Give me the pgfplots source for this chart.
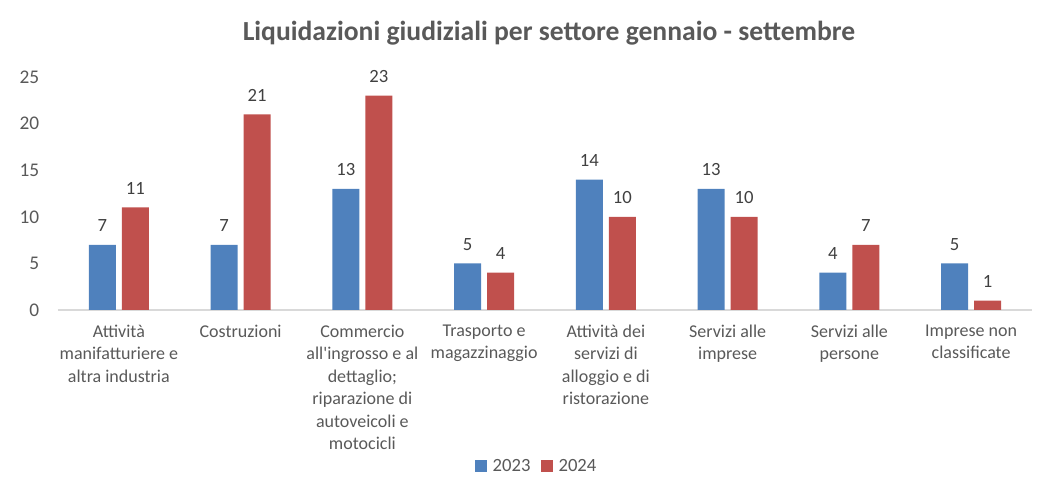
\documentclass[border=0pt]{standalone}
\usepackage{pgfplots}
\pgfplotsset{compat=1.18}
\usepackage{fontspec}
\setmainfont{Carlito}
\definecolor{b23}{HTML}{4F81BD}
\definecolor{r24}{HTML}{C0504D}
\definecolor{txt}{HTML}{595959}
\definecolor{lbl}{HTML}{404040}
\definecolor{axl}{HTML}{D9D9D9}
\begin{document}
\begin{tikzpicture}
\useasboundingbox (-43.5pt,-126pt) rectangle (741.75pt,232.5pt);
\begin{axis}[
  at={(0,0)}, anchor=south west,
  scale only axis, width=730.5pt, height=174.75pt,
  ybar=4.5pt, bar width=20.25pt,
  xmin=-0.5, xmax=7.5, ymin=0, ymax=25,
  ytick={0,5,10,15,20,25},
  xtick=data,
  xticklabels={{Attività\\manifatturiere e\\altra industria},{Costruzioni},{Commercio\\all\textquotesingle ingrosso e al\\dettaglio;\\riparazione di\\autoveicoli e\\motocicli},{Trasporto e\\magazzinaggio},{Attività dei\\servizi di\\alloggio e di\\ristorazione},{Servizi alle\\imprese},{Servizi alle\\persone},{Imprese non\\classificate}},
  x tick label style={align=center, font=\fontsize{13.5pt}{16.9pt}\selectfont, text=txt, anchor=north, yshift=-7.5pt},
  y tick label style={font=\fontsize{14.5pt}{16pt}\selectfont, text=txt, xshift=-10.5pt},
  /pgf/number format/assume math mode=true,
  major tick length=0pt,
  axis x line*=bottom, axis y line*=left,
  x axis line style={axl, line width=1pt, -},
  y axis line style={draw=none},
  ytick style={draw=none}, xtick style={draw=none},
  nodes near coords,
  every node near coord/.append style={font=\fontsize{14pt}{16pt}\selectfont, text=lbl, inner sep=0pt, yshift=9.5pt},
  legend style={draw=none, at={(0.492,-0.67)}, anchor=center, legend columns=-1, font=\fontsize{14pt}{16pt}\selectfont, text=txt, /tikz/every even column/.append style={column sep=6pt}, /tikz/every odd column/.append style={column sep=2pt}},
  legend image code/.code={\fill[#1] (0pt,-4.5pt) rectangle (9pt,4.5pt);},
]
\addplot[fill=b23, draw=none] coordinates {(0,7) (1,7) (2,13) (3,5) (4,14) (5,13) (6,4) (7,5)};
\addplot[fill=r24, draw=none] coordinates {(0,11) (1,21) (2,23) (3,4) (4,10) (5,10) (6,7) (7,1)};
\legend{2023,2024}
\end{axis}
\node[font=\fontsize{20.7pt}{24pt}\selectfont\bfseries, text=txt] at (368.25pt,207.75pt) {Liquidazioni giudiziali per settore gennaio - settembre};
\end{tikzpicture}
\end{document}
